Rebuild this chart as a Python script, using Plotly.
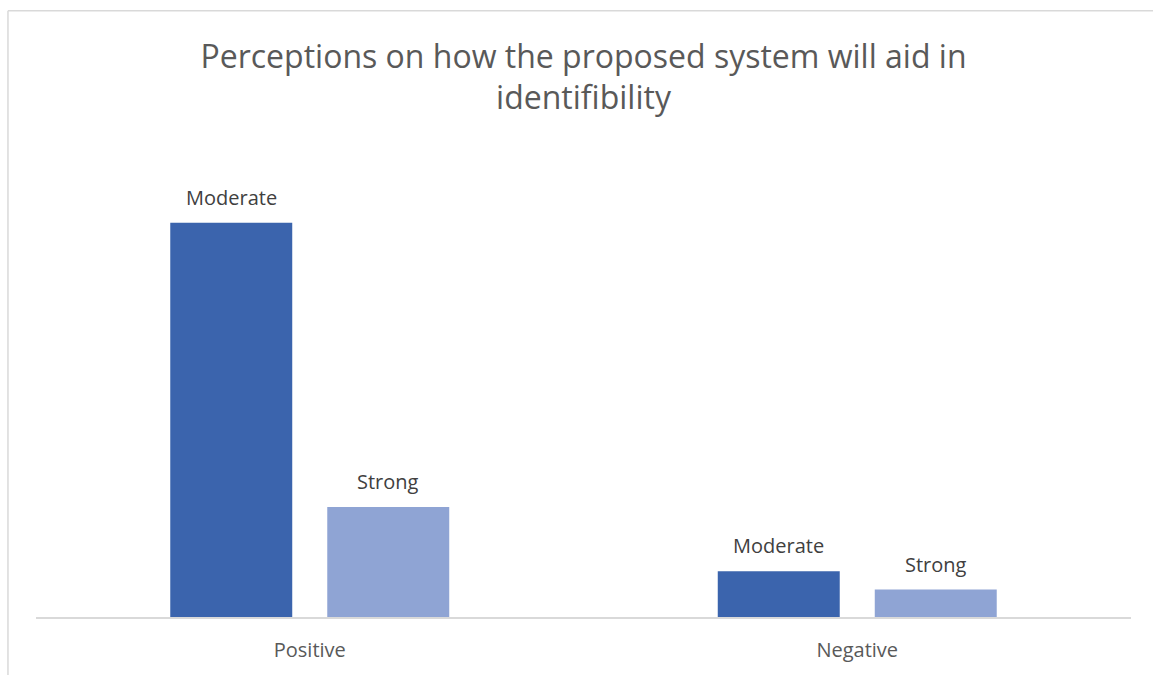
import plotly.graph_objects as go

categories = ["Positive", "Negative"]
moderate = [43, 5]
strong = [12, 3]
series_names = ["Moderate", "Strong"]
title_text = "Perceptions on how the proposed system will aid in<br>identifibility"

label_font = dict(family="Open Sans", size=20, color="#404040")
colors = ["#3B64AD", "#8FA4D4"]
series_values = [moderate, strong]

fig = go.Figure()
for name, vals, col in zip(series_names, series_values, colors):
    fig.add_trace(go.Bar(
        x=categories, y=vals, name=name,
        marker=dict(color=col, line=dict(width=0)),
    ))

# data labels (series name) above each bar
bar_offset_px = 78.5
for si, (name, vals) in enumerate(zip(series_names, series_values)):
    for cat, v in zip(categories, vals):
        fig.add_annotation(
            x=cat, y=v, xref="x", yref="y", text=name, showarrow=False,
            xshift=(-1 if si == 0 else 1) * bar_offset_px,
            yanchor="bottom", yshift=10, font=label_font,
        )

fig.update_layout(
    width=1153, height=675,
    margin=dict(l=36, r=22, t=177, b=56),
    paper_bgcolor="white", plot_bgcolor="white",
    showlegend=False,
    barmode="group", bargap=0.4265, bargroupgap=0.223,
    title=dict(text=title_text, x=0.5, xref="paper", xanchor="center",
               y=0.900, yref="container", yanchor="middle",
               font=dict(family="Open Sans", size=32, color="#595959")),
    xaxis=dict(showline=True, linecolor="#D9D9D9", linewidth=2, ticks="",
               tickfont=dict(family="Open Sans", size=20, color="#595959"),
               ticklabelstandoff=14,
               showgrid=False, zeroline=False),
    yaxis=dict(range=[0, 48], visible=False, showgrid=False, zeroline=False),
)

fig.add_shape(type="line", xref="paper", yref="paper",
              x0=-0.0256, x1=1.1, y0=1.378, y1=1.378,
              line=dict(color="#D9D9D9", width=1.5))
fig.add_shape(type="line", xref="paper", yref="paper",
              x0=-0.0256, x1=-0.0256, y0=1.378, y1=-0.2,
              line=dict(color="#D9D9D9", width=1.5))

fig.write_html("out.html")
